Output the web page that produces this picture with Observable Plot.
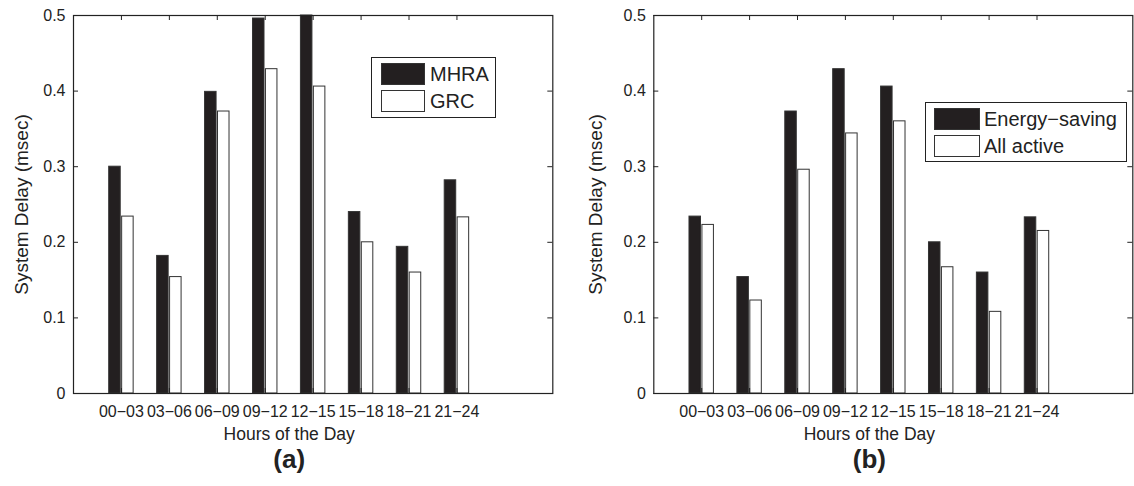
<!DOCTYPE html>
<html><head><meta charset="utf-8">
<script src="https://cdn.jsdelivr.net/npm/d3@7"></script>
<script src="https://cdn.jsdelivr.net/npm/@observablehq/plot@0.6"></script>
<style>
body{margin:0;background:#fff;font-family:"Liberation Sans",Arial,sans-serif;}
#wrap{position:relative;width:1134px;height:486px;overflow:hidden;background:#fff;}
.panel{position:absolute;top:0;}
.legend{position:absolute;border:1.3px solid #222;background:#fff;box-sizing:border-box;}
.sw{position:absolute;box-sizing:border-box;border:1px solid #333;}
.lt{position:absolute;font-size:20px;color:#222;line-height:20px;white-space:nowrap;}
</style></head><body><div id="wrap"></div>
<script>
// ---- data ----
const hours = ["00\u221203","03\u221206","06\u221209","09\u221212","12\u221215","15\u221218","18\u221221","21\u221224"];
const mhra = [0.300, 0.182, 0.399, 0.496, 0.500, 0.240, 0.194, 0.282];
const grc = [0.234, 0.154, 0.373, 0.429, 0.406, 0.200, 0.160, 0.233];
const energySaving = [0.234, 0.154, 0.373, 0.429, 0.406, 0.200, 0.160, 0.233];
const allActive = [0.223, 0.123, 0.296, 0.344, 0.360, 0.167, 0.108, 0.215];
const yTicks = [0, 0.1, 0.2, 0.3, 0.4, 0.5];
const xLimits = [0, 10];
const yLimits = [0, 0.5];
const xTitle = "Hours of the Day";
const yTitle = "System Delay (msec)";

const panels = [
  {tag: "(a)", left: 0, width: 567, marginLeft: 73, marginRight: 14.7, yTitleDx: -52,
   series: [["MHRA", mhra], ["GRC", grc]],
   legend: {left: 371, top: 57, width: 125, height: 61, swLeft: 9, swW: 44, textLeft: 58}},
  {tag: "(b)", left: 567, width: 567, marginLeft: 86.3, marginRight: 1.7, yTitleDx: -58,
   series: [["Energy\u2212saving", energySaving], ["All active", allActive]],
   legend: {left: 925, top: 102, width: 202, height: 60, swLeft: 8, swW: 46, textLeft: 58}}
];
const fills = ["#231f20", "#ffffff"];
const offsets = [-0.135, 0.135];
const barW = 0.24;

const wrap = document.getElementById("wrap");
const MT = 15, MB = 93, H = 486;
const xs = hours.map((h, i) => i + 1);

for (const p of panels) {
  const pw = p.width - p.marginLeft - p.marginRight;
  const ph = H - MT - MB;
  const rows = [];
  p.series.forEach(([name, vals], s) => vals.forEach((v, i) => rows.push({name, s, pos: i + 1, value: v})));
  const barMarks = p.series.map((_, s) => Plot.rect(rows.filter(d => d.s === s), {
    x1: d => d.pos + offsets[s] - barW / 2,
    x2: d => d.pos + offsets[s] + barW / 2,
    y1: 0, y2: "value",
    fill: fills[s], stroke: "#333", strokeWidth: 1
  }));
  const chart = Plot.plot({
    width: p.width, height: H,
    marginLeft: p.marginLeft, marginRight: p.marginRight, marginTop: MT, marginBottom: MB,
    style: {fontFamily: "'Liberation Sans', Arial, sans-serif", color: "#222", background: "#fff", overflow: "visible"},
    x: {domain: xLimits, axis: null},
    y: {domain: yLimits, axis: null},
    marks: [
      ...barMarks,
      Plot.tickY(yTicks, {y: d => d, insetRight: pw - 5, stroke: "#222"}),
      Plot.tickY(yTicks, {y: d => d, insetLeft: pw - 5, stroke: "#222"}),
      Plot.tickX(xs, {x: d => d, insetBottom: ph - 5, stroke: "#222"}),
      Plot.tickX(xs, {x: d => d, insetTop: ph - 5, stroke: "#222"}),
      Plot.frame({stroke: "#222", strokeWidth: 1.2}),
      Plot.axisY(yTicks, {anchor: "left", label: null, tickSize: 0, tickPadding: 8, tickFormat: d => String(d), fontSize: 16}),
      Plot.axisX(xs, {anchor: "bottom", label: null, tickSize: 0, tickPadding: 12, tickFormat: d => hours[d - 1], fontSize: 16}),
      Plot.text([xTitle], {text: d => d, x: (1 + hours.length) / 2, frameAnchor: "bottom", dy: 46, fontSize: 17.5, fill: "#222"}),
      Plot.text([p.tag], {text: d => d, x: (1 + hours.length) / 2, frameAnchor: "bottom", dy: 74, fontSize: 26, fontWeight: "bold", fill: "#222"}),
      Plot.text([yTitle], {text: d => d, frameAnchor: "left", textAnchor: "middle", dx: p.yTitleDx, rotate: -90, fontSize: 19, fill: "#222"})
    ]
  });
  chart.classList.add("panel");
  chart.style.left = p.left + "px";
  wrap.appendChild(chart);

  // legend
  const L = p.legend;
  const box = document.createElement("div");
  box.className = "legend";
  Object.assign(box.style, {left: L.left + "px", top: L.top + "px", width: L.width + "px", height: L.height + "px"});
  p.series.forEach(([name], s) => {
    const sw = document.createElement("div");
    sw.className = "sw";
    Object.assign(sw.style, {left: L.swLeft + "px", top: (5 + s * 27) + "px", width: L.swW + "px", height: "22px", background: fills[s]});
    box.appendChild(sw);
    const t = document.createElement("div");
    t.className = "lt";
    t.textContent = name;
    Object.assign(t.style, {left: L.textLeft + "px", top: (6 + s * 27) + "px"});
    box.appendChild(t);
  });
  wrap.appendChild(box);
}
</script></body></html>
